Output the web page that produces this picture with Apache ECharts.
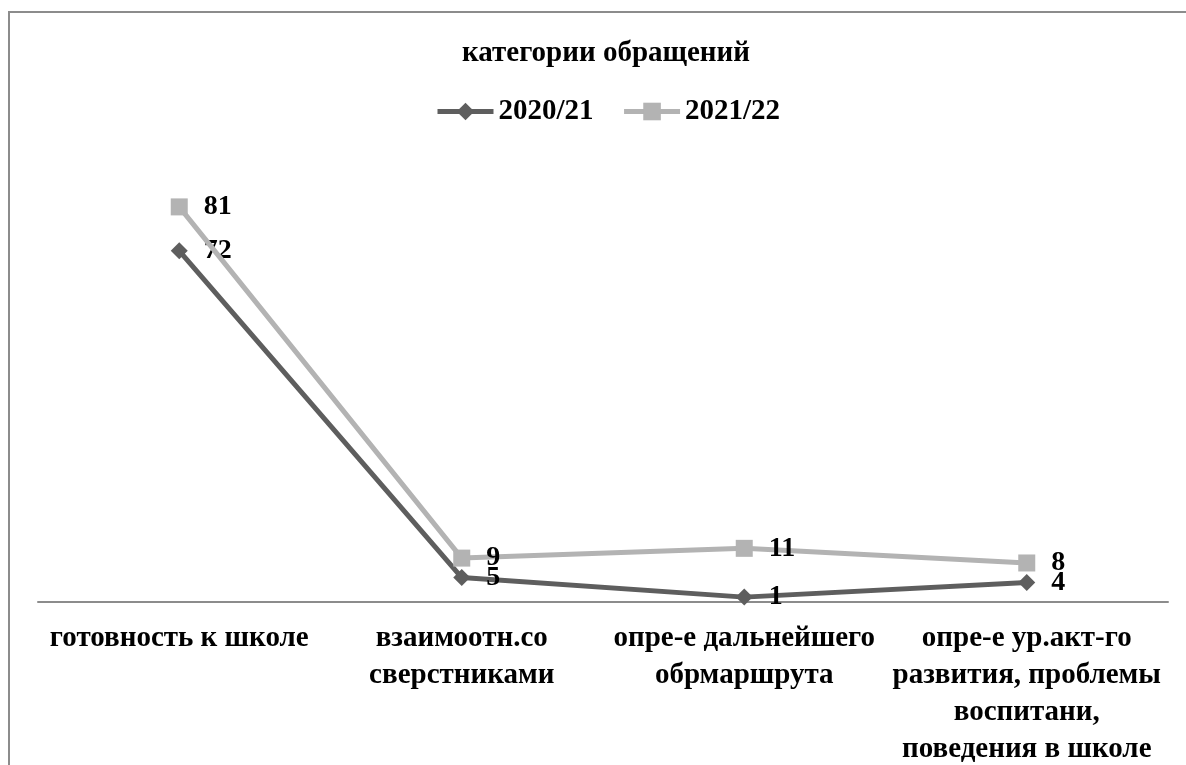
<!DOCTYPE html>
<html>
<head>
<meta charset="utf-8">
<script src="https://cdn.jsdelivr.net/npm/echarts@6/dist/echarts.min.js"></script>
<style>
  html, body { margin: 0; padding: 0; background: #fff; }
  #chart { width: 1186px; height: 765px; }
</style>
</head>
<body>
<div id="chart"></div>
<script>
const categories = [
  'готовность к школе',
  'взаимоотн.со\nсверстниками',
  'опре-е дальнейшего\nобрмаршрута',
  'опре-е ур.акт-го\nразвития, проблемы\nвоспитани,\nповедения в школе'
]
const seriesNames = ['2020/21', '2021/22']
const values2020 = [72, 5, 1, 4]
const values2021 = [81, 9, 11, 8]

const fontFamily = '"Liberation Serif", "Times New Roman", serif'
const darkGray = '#5e5e5e'
const lightGray = '#b3b3b3'

const labelStyle = {
  show: true,
  position: 'right',
  distance: 16,
  color: '#000',
  fontFamily,
  fontWeight: 'bold',
  fontSize: 28,
}

const chart = echarts.init(document.getElementById('chart'))

chart.setOption({
  animation: false,
  backgroundColor: '#fff',
  title: {
    text: 'категории обращений',
    left: 457,
    top: 34,
    textStyle: {
      color: '#000',
      fontFamily,
      fontWeight: 'bold',
      fontSize: 29,
    },
  },
  legend: {
    top: 97,
    left: 435,
    padding: 0,
    itemWidth: 56,
    itemHeight: 22,
    itemGap: 28,
    lineStyle: { width: 5 },
    textStyle: {
      color: '#000',
      fontFamily,
      fontWeight: 'bold',
      fontSize: 29,
    },
    data: seriesNames,
  },
  grid: {
    left: 38,
    right: 18,
    top: 163,
    bottom: 163,
    outerBoundsMode: 'none',
  },
  xAxis: {
    type: 'category',
    data: categories,
    boundaryGap: true,
    axisLine: { show: true, lineStyle: { color: '#8c8c8c', width: 2 } },
    axisTick: { show: false },
    axisLabel: {
      color: '#000',
      fontFamily,
      fontWeight: 'bold',
      fontSize: 29,
      lineHeight: 37,
      margin: 18,
      interval: 0,
      align: 'center',
      hideOverlap: false,
    },
  },
  yAxis: {
    type: 'value',
    min: 0,
    max: 90,
    show: false,
    splitLine: { show: false },
  },
  graphic: [
    {
      type: 'polyline',
      shape: { points: [[9, 765], [9, 12], [1186, 12]] },
      style: { stroke: '#8c8c8c', lineWidth: 2, fill: null },
      silent: true,
    },
  ],
  series: [
    {
      name: seriesNames[0],
      type: 'line',
      data: values2020,
      symbol: 'diamond',
      symbolSize: 17,
      color: darkGray,
      lineStyle: { width: 5, color: darkGray },
      itemStyle: { color: darkGray },
      label: labelStyle,
      z: 2,
    },
    {
      name: seriesNames[1],
      type: 'line',
      data: values2021,
      symbol: 'rect',
      symbolSize: 17,
      color: lightGray,
      lineStyle: { width: 5, color: lightGray },
      itemStyle: { color: lightGray },
      label: labelStyle,
      z: 3,
    },
  ],
})
</script>
</body>
</html>
